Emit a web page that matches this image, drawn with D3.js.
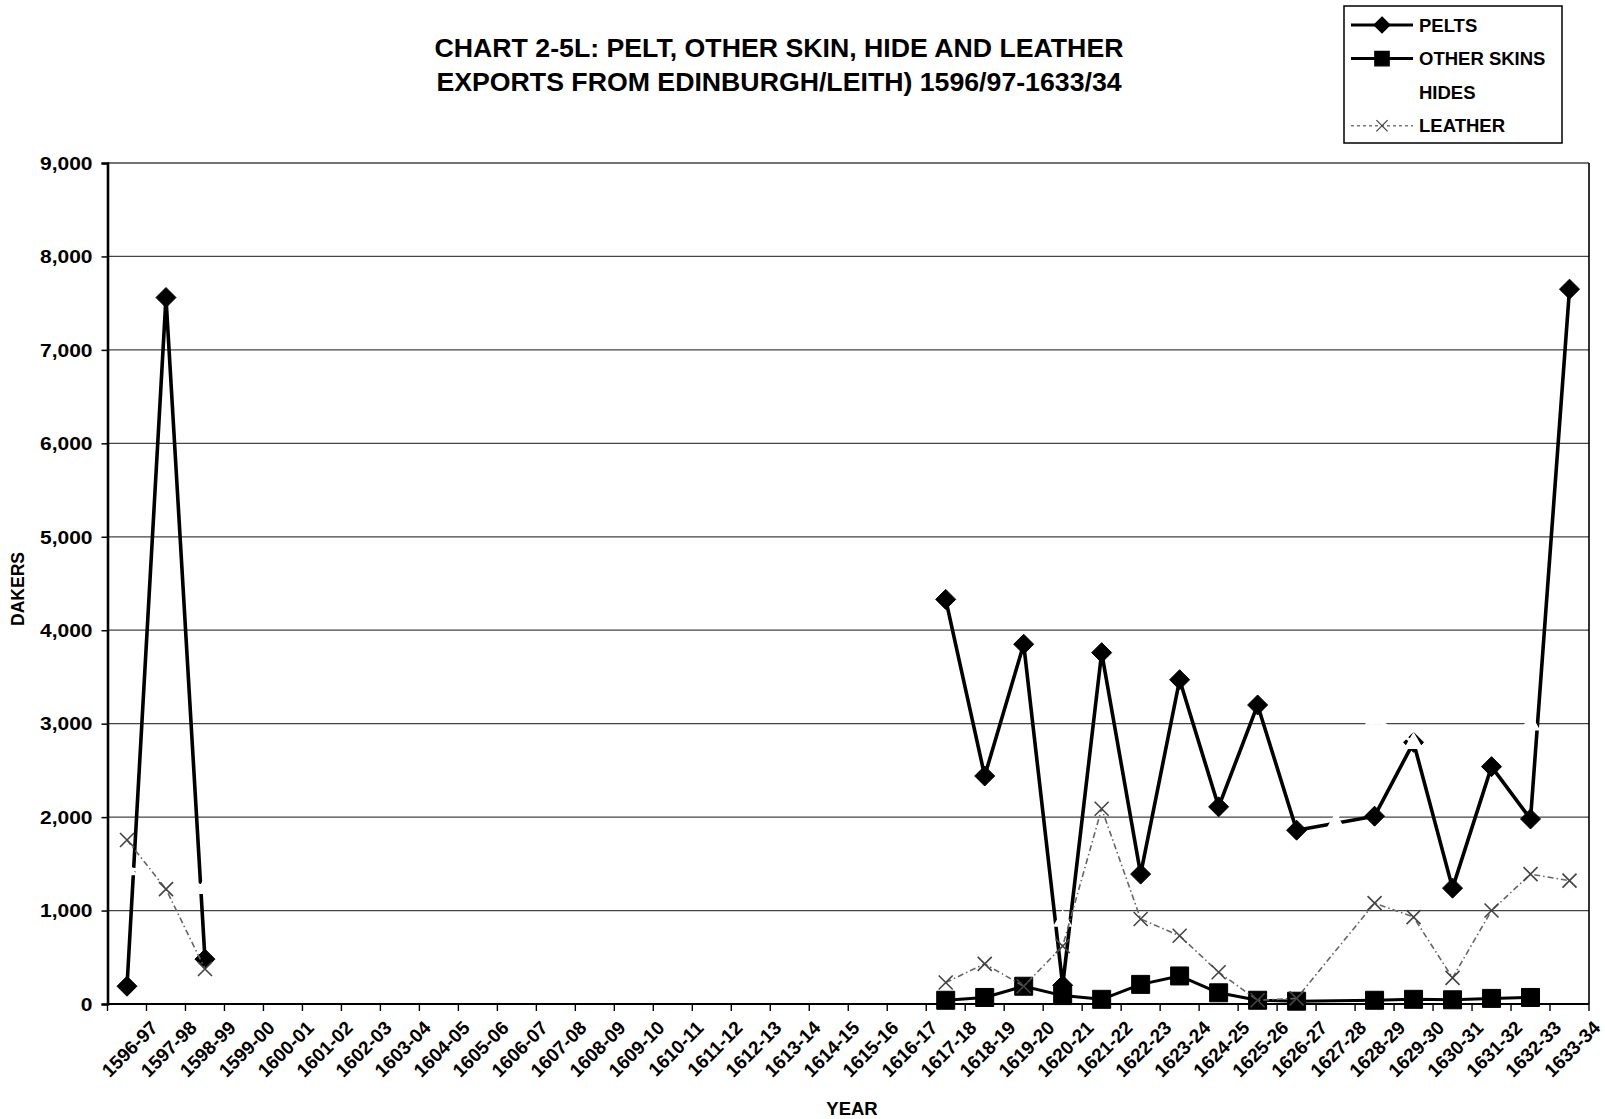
<!DOCTYPE html>
<html>
<head>
<meta charset="utf-8">
<script src="https://cdn.jsdelivr.net/npm/d3@7"></script>
<style>
  html, body { margin: 0; padding: 0; background: #fff; }
  svg { display: block; }
  text { font-family: "Liberation Sans", Arial, sans-serif; font-weight: bold; fill: #000; }
</style>
</head>
<body>
<svg id="chart" width="1605" height="1119"></svg>
<script>
// Export years (Scottish accounting years)
const categories = [
  "1596-97","1597-98","1598-99","1599-00","1600-01","1601-02","1602-03","1603-04",
  "1604-05","1605-06","1606-07","1607-08","1608-09","1609-10","1610-11","1611-12",
  "1612-13","1613-14","1614-15","1615-16","1616-17","1617-18","1618-19","1619-20",
  "1620-21","1621-22","1622-23","1623-24","1624-25","1625-26","1626-27","1627-28",
  "1628-29","1629-30","1630-31","1631-32","1632-33","1633-34"
];

// Quantities in dakers; null = no record for that year
const pelts = [
  190, 7560, 480,
  null, null, null, null, null, null, null, null, null,
  null, null, null, null, null, null, null, null, null,
  4330, 2440, 3850, 200, 3760, 1390, 3470, 2110, 3200, 1860,
  null, 2010, 2800, 1240, 2540, 1980, 7650
];
const otherSkins = [
  null, null, null,
  null, null, null, null, null, null, null, null, null,
  null, null, null, null, null, null, null, null, null,
  40, 70, 190, 90, 50, 210, 300, 120, 40, 30,
  null, 40, 50, 45, 60, 70, null
];
const hides = [
  1450, 1400, 1250,
  null, null, null, null, null, null, null, null, null,
  null, null, null, null, null, null, null, null, null,
  null, null, null, 900, null, null, null, null, null, null,
  1940, 3060, 2800, null, null, 3000, null
];
const leather = [
  1755, 1230, 375,
  null, null, null, null, null, null, null, null, null,
  null, null, null, null, null, null, null, null, null,
  230, 430, 190, 620, 2090, 910, 730, 340, 40, 60,
  null, 1080, 930, 280, 1000, 1390, 1320
];

const yTicks = [0, 1000, 2000, 3000, 4000, 5000, 6000, 7000, 8000, 9000];
const titleLines = [
  "CHART 2-5L: PELT, OTHER SKIN, HIDE AND LEATHER",
  "EXPORTS FROM EDINBURGH/LEITH) 1596/97-1633/34"
];

const svg = d3.select("#chart");
const plot = { left: 107.5, right: 1589, top: 163, bottom: 1004 };

const x = d3.scaleBand().domain(categories).range([plot.left, plot.right]).paddingInner(0).paddingOuter(0);
const cx = c => x(c) + x.bandwidth() / 2;
const y = d3.scaleLinear().domain([0, 9000]).range([plot.bottom, plot.top]);

// Title
svg.append("g").selectAll("text").data(titleLines).join("text")
  .attr("x", 779).attr("y", (d, i) => 57 + i * 34)
  .attr("text-anchor", "middle").style("font-size", "26.7px")
  .text(d => d);

// Horizontal gridlines
svg.append("g").selectAll("line").data(yTicks.filter(v => v > 0)).join("line")
  .attr("x1", plot.left).attr("x2", plot.right)
  .attr("y1", d => y(d)).attr("y2", d => y(d))
  .attr("stroke", "#444").attr("stroke-width", 1.3);

// Right border of the plot area
svg.append("line")
  .attr("x1", plot.right).attr("x2", plot.right)
  .attr("y1", plot.top).attr("y2", plot.bottom)
  .attr("stroke", "#000").attr("stroke-width", 1.6);

// Y axis
const yAxis = d3.axisLeft(y).tickValues(yTicks).tickSize(6).tickPadding(9)
  .tickFormat(d3.format(","));
const gy = svg.append("g").attr("transform", `translate(${plot.left},0)`).call(yAxis);
gy.select(".domain").attr("stroke", "#000").attr("stroke-width", 2.6);
gy.selectAll(".tick line").attr("stroke", "#000").attr("stroke-width", 1.5);
gy.selectAll(".tick text")
  .style("font-size", "17.5px").style("font-family", "'Liberation Sans', Arial, sans-serif")
  .attr("dy", "0.36em")
  .each(function () {
    const t = d3.select(this);
    const xx = +t.attr("x");
    t.attr("x", 0).attr("transform", `translate(${xx},0) scale(1.2,1)`);
  });

// X axis: ticks between categories, rotated year labels
const gx = svg.append("g").attr("transform", `translate(0,${plot.bottom})`);
gx.append("line").attr("x1", plot.left).attr("x2", plot.right)
  .attr("stroke", "#000").attr("stroke-width", 2.2);
gx.selectAll("line.tk").data(d3.range(categories.length + 1)).join("line")
  .attr("class", "tk")
  .attr("x1", i => plot.left + i * x.bandwidth()).attr("x2", i => plot.left + i * x.bandwidth())
  .attr("y1", 0).attr("y2", 7).attr("stroke", "#000").attr("stroke-width", 1.4);
gx.selectAll("text").data(categories).join("text")
  .attr("text-anchor", "end").style("font-size", "19px")
  .attr("transform", d => `translate(${cx(d) + 32},${25}) rotate(-45)`)
  .text(d => d);

// Axis titles
svg.append("text").attr("transform", "translate(24,589) rotate(-90)")
  .attr("text-anchor", "middle").style("font-size", "17.5px").text("DAKERS");
svg.append("text").attr("x", 852).attr("y", 1115)
  .attr("text-anchor", "middle").style("font-size", "18.5px").text("YEAR");

// Lines run through consecutive records, bridging a single missing year
function segments(values) {
  const pts = categories.map((c, i) => ({ i, c, v: values[i] })).filter(p => p.v != null);
  const segs = [];
  let cur = [];
  pts.forEach((p, k) => {
    if (k > 0 && p.i - pts[k - 1].i > 2) { segs.push(cur); cur = []; }
    cur.push(p);
  });
  if (cur.length) segs.push(cur);
  return { pts, segs };
}
const lineGen = d3.line().x(p => cx(p.c)).y(p => y(p.v));

function drawSeries(values, style) {
  const { pts, segs } = segments(values);
  const g = svg.append("g");
  g.selectAll("path.ln").data(segs.filter(s => s.length > 1)).join("path")
    .attr("class", "ln").attr("d", lineGen).attr("fill", "none")
    .attr("stroke", style.stroke).attr("stroke-width", style.width)
    .attr("stroke-dasharray", style.dash || null)
    .attr("stroke-linejoin", "round");
  g.selectAll("path.mk").data(pts).join("path")
    .attr("class", "mk")
    .attr("transform", p => `translate(${cx(p.c)},${y(p.v)})`)
    .attr("d", style.marker)
    .attr("fill", style.markerFill).attr("stroke", style.markerStroke)
    .attr("stroke-width", style.markerWidth);
}

const diamond = "M0,-10L10,0L0,10L-10,0Z";
const square = "M-9,-9H9V9H-9Z";
const triangle = "M0,-9L8.5,6L-8.5,6Z";
const cross = "M-7,-7L7,7M-7,7L7,-7";

drawSeries(pelts, { stroke: "#000", width: 3.6, marker: diamond, markerFill: "#000", markerStroke: "#000", markerWidth: 1 });
drawSeries(otherSkins, { stroke: "#000", width: 3, marker: square, markerFill: "#000", markerStroke: "#000", markerWidth: 1 });
drawSeries(hides, { stroke: "#fff", width: 3, marker: triangle, markerFill: "#fff", markerStroke: "#fff", markerWidth: 1.5 });
drawSeries(leather, { stroke: "#666", width: 1.6, dash: "6,3,1.5,3", marker: cross, markerFill: "none", markerStroke: "#444", markerWidth: 1.6 });

// Legend
const legend = svg.append("g");
legend.append("rect").attr("x", 1344).attr("y", 6).attr("width", 218).attr("height", 137)
  .attr("fill", "#fff").attr("stroke", "#000").attr("stroke-width", 1.5);
const legendItems = [
  { name: "PELTS", stroke: "#000", width: 3, marker: diamond, fill: "#000", mstroke: "#000", scale: 0.8 },
  { name: "OTHER SKINS", stroke: "#000", width: 3, marker: square, fill: "#000", mstroke: "#000", scale: 0.8 },
  { name: "HIDES", stroke: "#fff", width: 3, marker: triangle, fill: "#fff", mstroke: "#fff", scale: 0.8 },
  { name: "LEATHER", stroke: "#777", width: 1.4, dash: "3,3", marker: cross, fill: "none", mstroke: "#444", scale: 0.8 }
];
const li = legend.selectAll("g.item").data(legendItems).join("g")
  .attr("class", "item").attr("transform", (d, i) => `translate(0,${25 + i * 33.6})`);
li.append("line").attr("x1", 1351).attr("x2", 1413).attr("y1", 0).attr("y2", 0)
  .attr("stroke", d => d.stroke).attr("stroke-width", d => d.width)
  .attr("stroke-dasharray", d => d.dash || null);
li.append("path").attr("transform", d => `translate(1382,0) scale(${d.scale})`)
  .attr("d", d => d.marker).attr("fill", d => d.fill).attr("stroke", d => d.mstroke).attr("stroke-width", 1.5);
li.append("text").attr("x", 1419).attr("y", 0).attr("dy", "0.36em")
  .style("font-size", "18.5px").text(d => d.name);
</script>
</body>
</html>
